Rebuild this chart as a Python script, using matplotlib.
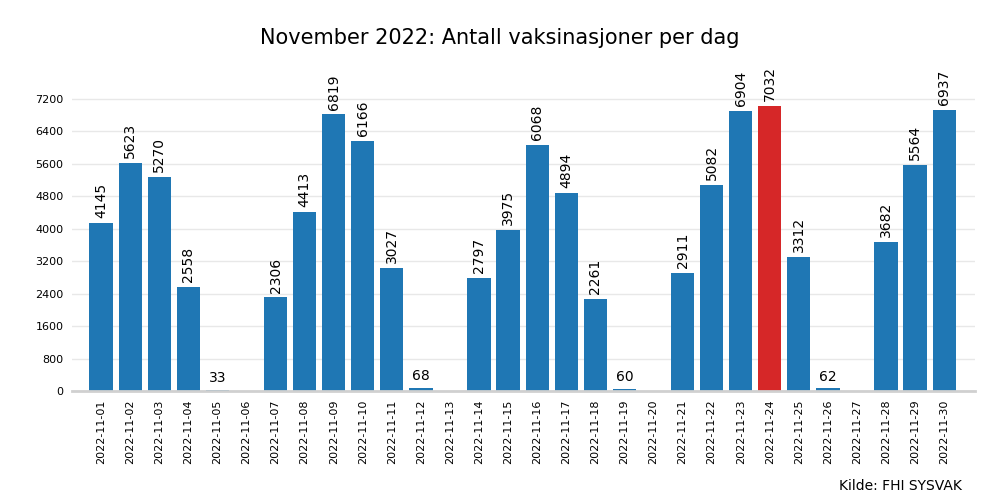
import matplotlib.pyplot as plt

dates = [f"2022-11-{d:02d}" for d in range(1, 31)]
values = [4145, 5623, 5270, 2558, 33, 0, 2306, 4413, 6819, 6166, 3027, 68, 0,
          2797, 3975, 6068, 4894, 2261, 60, 0, 2911, 5082, 6904, 7032, 3312,
          62, 0, 3682, 5564, 6937]
yticks = list(range(0, 7201, 800))

colors = ['#d62728' if v == max(values) else '#1f77b4' for v in values]

fig = plt.figure(figsize=(10, 5), dpi=100)
ax = fig.add_axes([0.072, 0.218, 0.903, 0.642])
x = range(len(values))
ax.bar(x, values, width=0.8, color=colors, zorder=2)

for i, v in enumerate(values):
    if v == 0:
        continue
    if v > 100:
        ax.text(i, v + 120, str(v), rotation=90, ha='center', va='bottom', fontsize=10)
    else:
        ax.text(i, v + 120, str(v), ha='center', va='bottom', fontsize=10)

ax.set_xticks(list(x))
ax.set_xticklabels(dates, rotation=90, fontsize=8)
ax.set_yticks(yticks)
ax.set_yticklabels([str(t) for t in yticks], fontsize=8)
ax.set_xlim(-1.0, 30.06)
ax.set_ylim(0, 7915)
ax.grid(axis='y', color='#e8e8e8', linewidth=1, zorder=0)
for s in ['left', 'right', 'top']:
    ax.spines[s].set_visible(False)
ax.spines['bottom'].set_color('#d0d0d0')
ax.spines['bottom'].set_linewidth(2)
ax.tick_params(length=0, pad=6)

fig.suptitle("November 2022: Antall vaksinasjoner per dag", fontsize=15, y=0.945)
fig.text(0.962, 0.015, "Kilde: FHI SYSVAK", ha='right', va='bottom', fontsize=10)

fig.savefig("out.png", dpi=100, facecolor='white')
